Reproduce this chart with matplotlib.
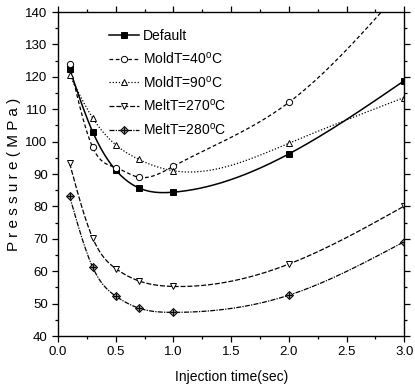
import numpy as np
import matplotlib
matplotlib.use('Agg')
import matplotlib.pyplot as plt
from matplotlib.ticker import MultipleLocator
from matplotlib.legend_handler import HandlerTuple

plt.rcParams['font.family'] = ['Liberation Sans', 'DejaVu Sans']
plt.rcParams['mathtext.fontset'] = 'custom'
plt.rcParams['mathtext.rm'] = 'Liberation Sans'

# Data
time = [0.1, 0.3, 0.5, 0.7, 1.0, 2.0, 3.0]
default = [122.4, 103.0, 91.2, 85.7, 84.4, 96.2, 118.8]
moldt40 = [124.0, 98.2, 92.0, 89.0, 92.4, 112.1, 148.0]
moldt90 = [120.5, 107.3, 99.0, 94.5, 91.0, 99.5, 113.6]
meltt270 = [93.3, 70.2, 60.8, 57.0, 55.3, 62.2, 80.1]
meltt280 = [83.1, 61.2, 52.3, 48.6, 47.3, 52.6, 69.1]


def spline(x, y, n=300):
    # natural cubic spline, just for drawing the smooth curve
    x = np.asarray(x, float)
    y = np.asarray(y, float)
    h = np.diff(x)
    m = len(x)
    A = np.zeros((m, m))
    r = np.zeros(m)
    A[0, 0] = A[-1, -1] = 1
    for i in range(1, m - 1):
        A[i, i - 1] = h[i - 1]
        A[i, i] = 2 * (h[i - 1] + h[i])
        A[i, i + 1] = h[i]
        r[i] = 6 * ((y[i + 1] - y[i]) / h[i] - (y[i] - y[i - 1]) / h[i - 1])
    M = np.linalg.solve(A, r)
    xs = np.linspace(x[0], x[-1], n)
    k = np.clip(np.searchsorted(x, xs) - 1, 0, m - 2)
    a = x[k + 1] - xs
    b = xs - x[k]
    hk = h[k]
    ys = (M[k] * a**3 + M[k + 1] * b**3) / (6 * hk) \
        + (y[k] / hk - M[k] * hk / 6) * a + (y[k + 1] / hk - M[k + 1] * hk / 6) * b
    return xs, ys


fig = plt.figure(figsize=(4.15, 3.88), dpi=100)
ax = fig.add_axes([0.140, 0.134, 0.834, 0.835])

series = [
    (default, 'Default', '-', 's', 'black', 1.1),
    (moldt40, r'MoldT=40$^{\rm o}$C', (0, (3, 2)), 'o', 'white', 0.9),
    (moldt90, r'MoldT=90$^{\rm o}$C', (0, (1, 1.5)), '^', 'white', 0.9),
    (meltt270, r'MeltT=270$^{\rm o}$C', (0, (4, 1.5)), 'v', 'white', 0.9),
    (meltt280, r'MeltT=280$^{\rm o}$C', (0, (4, 1, 1, 1)), 'D', '#8a8a8a', 0.9),
]

handles = []
labels = []
for y, lab, ls, mk, fc, lw in series:
    xs, ys = spline(time, y)
    ax.plot(xs, ys, color='black', ls=ls, lw=lw)
    ms = 4.5 if mk != 'D' else 4
    ax.plot(time, y, ls='none', marker=mk, ms=ms,
            mfc=fc, mec='black', mew=0.7)
    line, = ax.plot([], [], color='black', ls=ls, lw=lw, marker=mk, ms=ms,
                    mfc=fc, mec='black', mew=0.7)
    if mk == 'D':
        ax.plot(time, y, ls='none', marker='+', ms=4, color='black', mew=0.7)
        plus, = ax.plot([], [], ls='none', marker='+', ms=4, color='black', mew=0.7)
        handles.append((line, plus))
    else:
        handles.append(line)
    labels.append(lab)

ax.legend(handles, labels, loc='upper left', bbox_to_anchor=(0.13, 0.965),
          frameon=False, fontsize=10, handlelength=2.2, handletextpad=0.3,
          labelspacing=0.55, borderaxespad=0,
          handler_map={tuple: HandlerTuple(ndivide=1, pad=0)})

ax.set_xlim(0, 3.0)
ax.set_ylim(40, 140)
ax.xaxis.set_major_locator(MultipleLocator(0.5))
ax.xaxis.set_minor_locator(MultipleLocator(0.25))
ax.yaxis.set_major_locator(MultipleLocator(10))
ax.yaxis.set_minor_locator(MultipleLocator(5))
ax.set_xticks(np.arange(0, 3.01, 0.5))
ax.set_xticklabels(['0.0', '0.5', '1.0', '1.5', '2.0', '2.5', '3.0'])
ax.tick_params(which='both', direction='out', top=True, right=True,
               labelsize=9.5, width=0.9)
ax.tick_params(which='major', length=4)
ax.tick_params(which='minor', length=2.5)
for s in ax.spines.values():
    s.set_linewidth(1.0)

ax.set_xlabel('Injection time(sec)', fontsize=10, labelpad=8)
ax.set_ylabel('P r e s s u r e ( M P a )', fontsize=11, labelpad=3)

fig.savefig('out.png', dpi=100)
